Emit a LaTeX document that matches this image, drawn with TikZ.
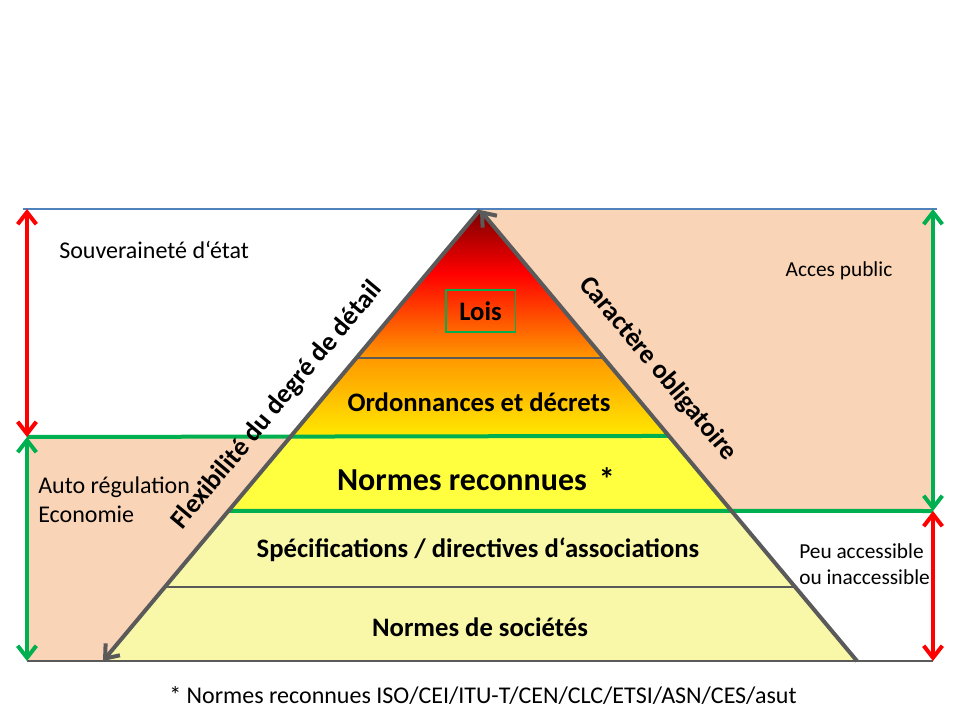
\documentclass[tikz,border=0pt]{standalone}
\usepackage{fontspec}
\setmainfont{Carlito}
\usetikzlibrary{arrows.meta,calc}
\definecolor{peach}{HTML}{FAD4B6}
\definecolor{pgreen}{HTML}{00B050}
\definecolor{pred}{HTML}{FF0000}
\definecolor{pgray}{HTML}{5A5A5A}
\definecolor{pblue}{HTML}{4F81BD}
\definecolor{ylw}{HTML}{FFFF40}
\definecolor{lylw}{HTML}{F8F8A8}
\definecolor{cA}{HTML}{7A0000}
\definecolor{cB}{HTML}{FF0000}
\definecolor{cC}{HTML}{FF9A00}
\definecolor{cD}{HTML}{FFE800}
\pgfdeclareverticalshading{pyrshade}{100bp}{color(0bp)=(cD); color(25bp)=(cD); color(42bp)=(cC); color(61bp)=(cB); color(75bp)=(cA); color(100bp)=(cA)}
\begin{document}
\begin{tikzpicture}[x=0.75pt,y=-0.75pt,
  lbl/.style={font=\bfseries\fontsize{20}{24}\selectfont, inner sep=0pt},
  txt/.style={font=\fontsize{18}{22}\selectfont, inner sep=0pt, align=left},
  smalltxt/.style={font=\fontsize{16}{19.5}\selectfont, inner sep=0pt, align=left},
  edgearr/.style={draw=pgray, line width=3pt, -{Straight Barb[length=9pt,width=14pt]}},
  vred/.style={draw=pred, line width=3pt, {Straight Barb[length=9pt,width=14pt]}-{Straight Barb[length=9pt,width=14pt]}},
  vgreen/.style={draw=pgreen, line width=3pt, {Straight Barb[length=9pt,width=14pt]}-{Straight Barb[length=9pt,width=14pt]}},
  gline/.style={draw=pgreen, line width=3pt},
  divline/.style={draw=pgray, line width=1.5pt},
]
\useasboundingbox (0,0) rectangle (960,720);
% key points
\coordinate (apex) at (480,210);
\coordinate (BL) at (103,661);
\coordinate (BR) at (857,661);
\coordinate (L1) at ($(apex)!0.328!(BL)$);
\coordinate (R1) at ($(apex)!0.328!(BR)$);
\coordinate (L2) at ($(apex)!0.501!(BL)$);
\coordinate (R2) at ($(apex)!0.501!(BR)$);
\coordinate (L3) at ($(apex)!0.667!(BL)$);
\coordinate (R3) at ($(apex)!0.667!(BR)$);
\coordinate (L4) at ($(apex)!0.836!(BL)$);
\coordinate (R4) at ($(apex)!0.836!(BR)$);
\coordinate (TL) at (23,209);
\coordinate (TR) at (937,209);
\coordinate (aL0) at (27,209);
\coordinate (aL1) at (27,437);
\coordinate (aL2) at (27,661);
\coordinate (aR0) at (933,209);
\coordinate (aR1) at (933,511);
\coordinate (aR2) at (933,661);
% peach regions
\fill[peach] (apex) -- (R3) -- (aR1) -- (aR0) -- cycle;
\fill[peach] (aL1) -- (L2) -- (BL) -- (aL2) -- cycle;
% pyramid fills
\shade[shading=pyrshade] (apex) -- (L2) -- (R2) -- cycle;
\fill[ylw] (L2) -- (L3) -- (R3) -- (R2) -- cycle;
\fill[lylw] (L3) -- (BL) -- (BR) -- (R3) -- cycle;
% horizontal lines
\draw[pblue, line width=1pt] (TL) -- (TR);
\draw[divline] (aL2) -- (aR2);
\draw[divline] (L1) -- (R1);
\draw[divline] (L4) -- (R4);
\draw[gline] (aL1) -- (R2);
\draw[gline] (L3) -- (aR1);
% pyramid edges
\draw[edgearr] (apex) -- (BL);
\draw[edgearr] (BR) -- (apex);
% vertical arrows
\draw[vred] (aL0) -- (aL1);
\draw[vgreen] (aL1) -- (aL2);
\draw[vgreen] (aR0) -- (aR1);
\draw[vred] (aR1) -- (aR2);
% labels in pyramid
\node[lbl, draw=pgreen, line width=1pt, minimum width=52pt, minimum height=31.5pt] (lois) at (480.5,311) {Lois};
\node[lbl] (ord) at (479,402) {Ordonnances et décrets};
\node[lbl, font=\bfseries\fontsize{24}{29}\selectfont] (nr) at (476,479) {Normes reconnues\hspace{9pt}*};
\node[lbl] (spec) at (478,550) {Spécifications / directives d‘associations};
\node[lbl] (soc) at (480,627) {Normes de sociétés};
% side labels
\node[lbl, rotate=50.1] (flex) at (277,405.5) {Flexibilité du degré de détail};
\node[lbl, rotate=-50.1] (car) at (658,369) {Caractère obligatoire};
\node[txt, anchor=west] (souv) at (59,250) {Souveraineté d‘état};
\node[smalltxt, anchor=center] (acc) at (839,271) {Acces public};
\node[txt, anchor=west] (auto) at (38,500) {Auto régulation\\Economie};
\node[smalltxt, anchor=west] (peu) at (799,564) {Peu accessible\\ou inaccessible};
\node[txt, anchor=center] (foot) at (483,695) {* Normes reconnues ISO/CEI/ITU-T/CEN/CLC/ETSI/ASN/CES/asut};
\end{tikzpicture}
\end{document}
